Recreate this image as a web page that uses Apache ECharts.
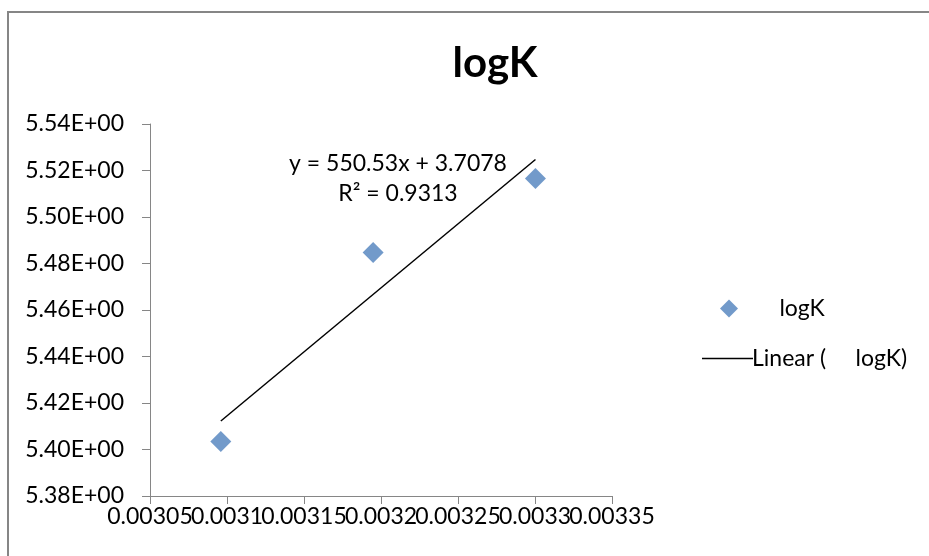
<!DOCTYPE html>
<html>
<head>
<meta charset="utf-8">
<script src="https://cdn.jsdelivr.net/npm/echarts@6/dist/echarts.min.js"></script>
<style>
html,body{margin:0;padding:0;background:#fff;}
#c{width:929px;height:556px;}
</style>
</head>
<body>
<div id="c"></div>
<script>
// Data (x = 1/T, y = logK)
const xValues = [0.0030960, 0.0031949, 0.0033003];
const yValues = [5.4034, 5.4847, 5.5166];
const trendSlope = 550.53;
const trendIntercept = 3.7078;
const seriesName = '     logK';
const trendName = 'Linear (     logK)';
const titleText = 'logK';
const equationText = 'y = 550.53x + 3.7078';
const r2Text = 'R² = 0.9313';
const xMinAxis = 0.00305, xMaxAxis = 0.00335, xStep = 0.00005;

const points = xValues.map((x, i) => [x, yValues[i]]);
const xMin = Math.min(...xValues), xMax = Math.max(...xValues);
const trendPoints = [[xMin, trendSlope * xMin + trendIntercept], [xMax, trendSlope * xMax + trendIntercept]];

const FONT = 'Lato';
const FS = 23;
const fmtX = parity => v => {
  const k = Math.round((v - xMinAxis) / xStep);
  return (k % 2 === parity) ? String(parseFloat(v.toFixed(5))) : '';
};
const baseX = {
  type: 'value', min: xMinAxis, max: xMaxAxis, interval: xStep, position: 'bottom',
  splitLine: {show: false}
};
const chart = echarts.init(document.getElementById('c'), null, {renderer: 'canvas'});
chart.setOption({
  animation: false,
  backgroundColor: '#fff',
  textStyle: {fontFamily: FONT},
  title: {
    text: titleText, left: 490, top: 37, textAlign: 'center',
    textStyle: {fontFamily: FONT, fontWeight: 'bold', fontSize: 42, color: '#000'}
  },
  grid: {left: 150, right: 317, top: 124, bottom: 60, containLabel: false},
  xAxis: [
    Object.assign({}, baseX, {
      axisLine: {show: true, onZero: false, lineStyle: {color: '#868686', width: 1}},
      axisTick: {show: true, inside: false, length: 8, lineStyle: {color: '#868686'}},
      axisLabel: {margin: 9, color: '#000', fontFamily: FONT, fontSize: FS, showMinLabel: true, showMaxLabel: true, formatter: fmtX(0)}
    }),
    Object.assign({}, baseX, {
      axisLine: {show: false, onZero: false},
      axisTick: {show: false, length: 8},
      axisLabel: {margin: 9, color: '#000', fontFamily: FONT, fontSize: FS, showMinLabel: true, showMaxLabel: true, formatter: fmtX(1)}
    })
  ],
  yAxis: {
    type: 'value', min: 5.38, max: 5.54, interval: 0.02,
    axisLine: {show: true, onZero: false, lineStyle: {color: '#868686', width: 1}},
    axisTick: {show: true, inside: false, length: 8, lineStyle: {color: '#868686'}},
    splitLine: {show: false},
    axisLabel: {
      margin: 26, color: '#000', fontFamily: FONT, fontSize: FS,
      showMinLabel: true, showMaxLabel: true,
      formatter: v => {
        const s = v.toExponential(2).toUpperCase();
        const m = s.split('E');
        const e = parseInt(m[1], 10);
        return m[0] + 'E' + (e < 0 ? '-' : '+') + String(Math.abs(e)).padStart(2, '0');
      }
    }
  },
  legend: [
    {
      data: [{name: seriesName, icon: 'diamond'}],
      left: 715, top: 292, itemWidth: 18, itemHeight: 18, itemGap: 0,
      textStyle: {fontFamily: FONT, fontSize: FS, color: '#000', padding: [0, 0, 0, 7]}
    },
    {
      data: [{name: trendName, icon: 'rect', itemStyle: {color: '#000'}}],
      left: 697, top: 342, itemWidth: 51, itemHeight: 1.5, itemGap: 0,
      textStyle: {fontFamily: FONT, fontSize: FS, color: '#000', padding: [0, 0, 0, -6]}
    }
  ],
  graphic: [
    {type: 'polyline', silent: true, shape: {points: [[8, 600], [8, 12], [1000, 12]]},
     style: {fill: null, stroke: '#868686', lineWidth: 2}},
    {type: 'text', x: 398, y: 152, style: {text: equationText, font: FS + 'px ' + FONT, fill: '#000', align: 'center'}},
    {type: 'text', x: 398, y: 182, style: {text: r2Text, font: FS + 'px ' + FONT, fill: '#000', align: 'center'}}
  ],
  series: [
    {
      name: trendName, type: 'line', data: trendPoints, showSymbol: false, symbol: 'none',
      xAxisIndex: 0, lineStyle: {color: '#000', width: 1.5}, itemStyle: {color: '#000'}, z: 2
    },
    {
      name: seriesName, type: 'scatter', data: points, symbol: 'diamond', symbolSize: 21,
      xAxisIndex: 0, itemStyle: {color: '#4F81BD'}, z: 3
    }
  ]
});
</script>
</body>
</html>
